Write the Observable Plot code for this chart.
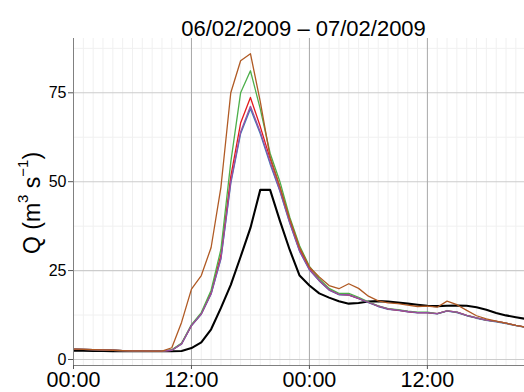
<!DOCTYPE html>
<html><head><meta charset="utf-8">
<script src="https://cdn.jsdelivr.net/npm/d3@7"></script>
<script src="https://cdn.jsdelivr.net/npm/@observablehq/plot@0.6"></script>
<style>body{margin:0;background:#fff;overflow:hidden}</style>
</head><body><div id="chart"></div>
<script>
// time index in hours since 06/02/2009 00:00
const hours = d3.range(0, 48);

const observed = [2.5,2.5,2.4,2.4,2.35,2.35,2.3,2.3,2.3,2.3,2.3,2.4,3.2,4.8,8.5,14.5,21,28.9,37,47.7,47.7,39,30.8,23.6,20.8,18.6,17.4,16.4,15.7,15.9,16.3,16.4,16.3,16,15.7,15.4,15.1,15,15.1,15.2,15.1,14.7,14.0,13.1,12.4,11.9,11.4,11.0];
const simBrown = [2.9,2.85,2.8,2.7,2.6,2.5,2.45,2.4,2.35,2.35,3.3,10.5,19.8,23.6,31.5,48.5,75,84,86,72.5,57,48.5,39.5,31.5,26,23.2,20.8,19.9,21.3,20.0,17.8,16.5,15.9,15.7,15.3,14.9,15.0,14.7,16.4,15.4,13.8,12.3,11.4,10.8,10.2,9.6,9.1,8.7];
const simGreen = [2.9,2.85,2.8,2.7,2.6,2.5,2.45,2.4,2.35,2.35,2.7,4.6,9.8,13.2,19.5,31,55.5,75,81.2,70.5,58,50,40,32,26.2,22.7,20.0,18.6,18.6,17.5,16.2,15.1,14.3,14.0,13.6,13.3,13.3,12.9,13.7,13.3,12.4,11.7,11.1,10.7,10.2,9.6,9.1,8.7];
const simRed = [2.9,2.85,2.8,2.7,2.6,2.5,2.45,2.4,2.35,2.35,2.6,4.5,9.6,12.9,18.8,29.5,51.5,66.5,73.7,65.5,56.5,48.5,39,31,25.6,22.3,19.7,18.3,18.2,17.2,16.1,15.0,14.2,13.9,13.5,13.2,13.2,12.9,13.7,13.3,12.4,11.7,11.1,10.7,10.2,9.6,9.1,8.7];
const simBlue = [2.9,2.85,2.8,2.7,2.6,2.5,2.45,2.4,2.35,2.35,2.6,4.4,9.5,12.7,18.4,28.3,49.5,63.5,70.5,63.5,55,47.3,38.3,30.4,25.2,22.1,19.5,18.2,18.1,17.1,16.0,14.9,14.1,13.8,13.4,13.1,13.1,12.8,13.6,13.2,12.3,11.6,11.0,10.6,10.1,9.5,9.0,8.6];
const simPurple = [2.9,2.85,2.8,2.7,2.6,2.5,2.45,2.4,2.35,2.35,2.6,4.4,9.6,12.8,18.5,28.5,50,64,71.2,64,55.5,47.5,38.5,30.5,25.3,22.2,19.6,18.3,18.2,17.2,16.1,15.0,14.2,13.9,13.5,13.2,13.2,12.9,13.7,13.3,12.4,11.7,11.1,10.7,10.2,9.6,9.1,8.7];

const seriesNames = ["observed","blue","red","green","purple","brown"];
const seriesValues = [observed, simBlue, simRed, simGreen, simPurple, simBrown];
const seriesColors = ["#000000","#377EB8","#E41A1C","#4DAF4A","#984EA3","#B05A24"];
const seriesWidths = [2.1, 1.3, 1.3, 1.3, 1.3, 1.3];

const xTicks = [0, 12, 24, 36];
const xTickLabels = ["00:00", "12:00", "00:00", "12:00"];
const yTicks = [0, 25, 50, 75];
const yMinor = [12.5, 37.5, 62.5, 87.5];
const titleText = "06/02/2009 – 07/02/2009";

const xDomain = [0, 45.88];
const yDomain = [-1.69, 90.27];
const minorHours = hours.filter(h => h % 12 !== 0);

const lineMarks = seriesNames.map((name, k) =>
  Plot.line(hours.map((t, i) => ({t, q: seriesValues[k][i]})),
    {x: "t", y: "q", stroke: seriesColors[k], strokeWidth: seriesWidths[k], clip: true})
);

const chart = Plot.plot({
  width: 524, height: 392,
  marginLeft: 73, marginRight: 0, marginTop: 38, marginBottom: 27,
  style: {fontFamily: "'Liberation Sans', Arial, Helvetica, sans-serif", background: "#fff", color: "#000"},
  x: {domain: xDomain},
  y: {domain: yDomain},
  marks: [
    Plot.ruleX(minorHours, {stroke: "#f0f0f0", strokeWidth: 1}),
    Plot.ruleY(yMinor, {stroke: "#f0f0f0", strokeWidth: 1}),
    Plot.ruleY(yTicks, {stroke: "#cccccc", strokeWidth: 1.1}),
    Plot.ruleX(xTicks, {stroke: "#a8a8a8", strokeWidth: 1}),
    ...lineMarks,
    Plot.ruleX([xDomain[0]], {stroke: "#808080", strokeWidth: 1}),
    Plot.ruleY([yDomain[0]], {stroke: "#808080", strokeWidth: 1}),
    Plot.axisX(xTicks, {tickFormat: d => xTickLabels[xTicks.indexOf(d)], fontSize: 21.5, tickSize: 4, tickPadding: 2, label: null, stroke: "#555"}),
    Plot.axisY(yTicks, {fontSize: 16, tickSize: 5, tickPadding: 2, label: null, stroke: "#555"}),
    Plot.text([titleText], {frameAnchor: "top", dx: 4.5, dy: -3, lineAnchor: "bottom", fontSize: 22, fill: "#000"})
  ]
});
document.getElementById("chart").appendChild(chart);

// y-axis title with superscripts
const svg = d3.select(chart);
const yt = svg.append("text")
  .attr("transform", "translate(40,203) rotate(-90)")
  .attr("text-anchor", "middle")
  .attr("font-size", 23)
  .attr("fill", "#000");
yt.append("tspan").text("Q (m");
yt.append("tspan").attr("dy", -12).attr("font-size", 15).text("3");
yt.append("tspan").attr("dy", 12).text(" s");
yt.append("tspan").attr("dy", -12).attr("font-size", 15).text("−1");
yt.append("tspan").attr("dy", 12).text(")");
</script>
</body></html>
